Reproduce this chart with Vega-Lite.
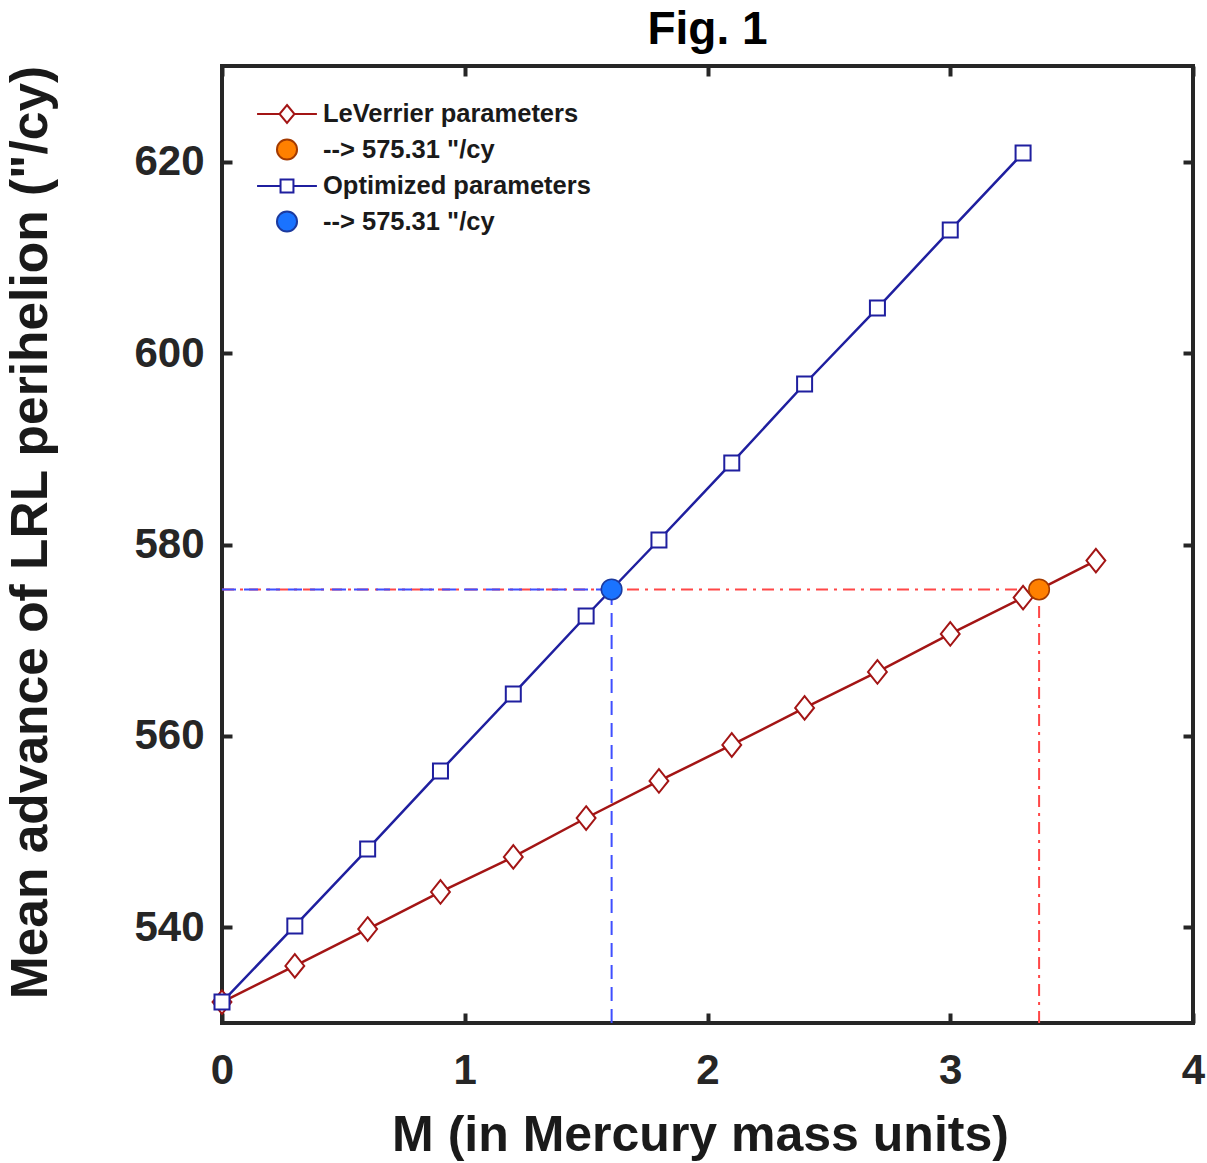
{
  "$schema": "https://vega.github.io/schema/vega-lite/v6.json",
  "width": 971,
  "height": 957,
  "autosize": {"type": "none"},
  "padding": {"left": 222, "top": 66, "right": 14, "bottom": 140},
  "background": "white",
  "title": {"text": "Fig. 1", "fontSize": 46, "font": "Liberation Sans", "fontWeight": "bold", "color": "#000000", "frame": "group", "anchor": "middle", "baseline": "alphabetic", "offset": 21, "dy": 47},
  "datasets": {
    "curves": [
      {"M": 0.0, "v": 532.19, "s": "L"},
      {"M": 0.3, "v": 535.96, "s": "L"},
      {"M": 0.6, "v": 539.82, "s": "L"},
      {"M": 0.9, "v": 543.69, "s": "L"},
      {"M": 1.2, "v": 547.35, "s": "L"},
      {"M": 1.5, "v": 551.42, "s": "L"},
      {"M": 1.8, "v": 555.29, "s": "L"},
      {"M": 2.1, "v": 559.05, "s": "L"},
      {"M": 2.4, "v": 562.92, "s": "L"},
      {"M": 2.7, "v": 566.68, "s": "L"},
      {"M": 3.0, "v": 570.65, "s": "L"},
      {"M": 3.3, "v": 574.45, "s": "L"},
      {"M": 3.6, "v": 578.32, "s": "L"},
      {"M": 0.0, "v": 532.19, "s": "O"},
      {"M": 0.3, "v": 540.14, "s": "O"},
      {"M": 0.6, "v": 548.18, "s": "O"},
      {"M": 0.9, "v": 556.33, "s": "O"},
      {"M": 1.2, "v": 564.38, "s": "O"},
      {"M": 1.5, "v": 572.53, "s": "O"},
      {"M": 1.8, "v": 580.47, "s": "O"},
      {"M": 2.1, "v": 588.52, "s": "O"},
      {"M": 2.4, "v": 596.77, "s": "O"},
      {"M": 2.7, "v": 604.71, "s": "O"},
      {"M": 3.0, "v": 612.86, "s": "O"},
      {"M": 3.3, "v": 620.91, "s": "O"}
    ],
    "dots": [
      {"M": 3.366, "v": 575.31, "s": "L"},
      {"M": 1.605, "v": 575.31, "s": "O"}
    ],
    "guides": [
      {"x1": 0, "x2": 3.366, "y1": 575.31, "y2": 575.31, "g": "red"},
      {"x1": 3.366, "x2": 3.366, "y1": 530, "y2": 575.31, "g": "red"},
      {"x1": 0, "x2": 1.605, "y1": 575.31, "y2": 575.31, "g": "blue"},
      {"x1": 1.605, "x2": 1.605, "y1": 530, "y2": 575.31, "g": "blue"}
    ],
    "keys": [{"k": "A"}, {"k": "B"}, {"k": "C"}, {"k": "D"}]
  },
  "resolve": {"axis": {"x": "independent", "y": "independent"}},
  "layer": [
    {
      "data": {"name": "guides"},
      "transform": [{"filter": "datum.g == 'red'"}],
      "mark": {"type": "rule", "stroke": "#ff4747", "strokeWidth": 2, "strokeDash": [12, 6, 3, 6]},
      "encoding": {
        "x": {"field": "x1", "type": "quantitative", "scale": {"domain": [0, 4], "nice": false, "zero": false},
              "axis": {"orient": "bottom", "values": [0, 1, 2, 3, 4], "title": "M (in Mercury mass units)", "grid": false, "domain": false,
                       "tickSize": -10, "tickWidth": 4, "tickColor": "#262626", "labelPadding": 70, "labelBaseline": "alphabetic",
                       "labelFontSize": 42, "labelFont": "Liberation Sans", "labelFontWeight": "bold", "labelColor": "#262626",
                       "titleFontSize": 50, "titleFont": "Liberation Sans", "titleFontWeight": "bold", "titleColor": "#1a1a1a",
                       "titleX": 478, "titleY": 127, "titleBaseline": "alphabetic", "titleAlign": "center", "labelFlush": false}},
        "x2": {"field": "x2"},
        "y": {"field": "y1", "type": "quantitative", "scale": {"domain": [530, 630], "nice": false, "zero": false},
              "axis": {"orient": "left", "values": [540, 560, 580, 600, 620], "title": "Mean advance of LRL perihelion (\"/cy)", "grid": false, "domain": false,
                       "tickSize": -10, "tickWidth": 4, "tickColor": "#262626", "labelPadding": 28, "labelBaseline": "middle",
                       "labelFontSize": 42, "labelFont": "Liberation Sans", "labelFontWeight": "bold", "labelColor": "#262626",
                       "titleFontSize": 51.5, "titleFont": "Liberation Sans", "titleFontWeight": "bold", "titleColor": "#1a1a1a",
                       "titleAngle": -90, "titleX": -176, "titleY": 466, "titleBaseline": "alphabetic", "titleAlign": "center", "labelFlush": false}},
        "y2": {"field": "y2"}
      }
    },
    {
      "data": {"name": "guides"},
      "transform": [{"filter": "datum.g == 'blue'"}],
      "mark": {"type": "rule", "stroke": "#3f4fff", "strokeWidth": 2, "strokeDash": [14, 8]},
      "encoding": {
        "x": {"field": "x1", "type": "quantitative",
              "axis": {"orient": "top", "values": [0, 1, 2, 3, 4], "title": null, "labels": false, "grid": false, "domain": false,
                       "tickSize": -10, "tickWidth": 4, "tickColor": "#262626"}},
        "x2": {"field": "x2"},
        "y": {"field": "y1", "type": "quantitative",
              "axis": {"orient": "right", "values": [540, 560, 580, 600, 620], "title": null, "labels": false, "grid": false, "domain": false,
                       "tickSize": -10, "tickWidth": 4, "tickColor": "#262626"}},
        "y2": {"field": "y2"}
      }
    },
    {
      "data": {"name": "curves"},
      "transform": [{"filter": "datum.s == 'L'"}],
      "mark": {"type": "line", "stroke": "#a31515", "strokeWidth": 2.5},
      "encoding": {
        "x": {"field": "M", "type": "quantitative", "axis": null},
        "y": {"field": "v", "type": "quantitative", "axis": null}
      }
    },
    {
      "data": {"name": "curves"},
      "transform": [{"filter": "datum.s == 'L'"}],
      "mark": {"type": "point", "shape": "M0,-1.15L0.92,0L0,1.15L-0.92,0Z", "size": 420, "filled": true, "fill": "white", "stroke": "#a31515", "strokeWidth": 2, "opacity": 1},
      "encoding": {
        "x": {"field": "M", "type": "quantitative", "axis": null},
        "y": {"field": "v", "type": "quantitative", "axis": null}
      }
    },
    {
      "data": {"name": "curves"},
      "transform": [{"filter": "datum.s == 'O'"}],
      "mark": {"type": "line", "stroke": "#1f1f9f", "strokeWidth": 2.5},
      "encoding": {
        "x": {"field": "M", "type": "quantitative", "axis": null},
        "y": {"field": "v", "type": "quantitative", "axis": null}
      }
    },
    {
      "data": {"name": "curves"},
      "transform": [{"filter": "datum.s == 'O'"}],
      "mark": {"type": "point", "shape": "square", "size": 225, "filled": true, "fill": "white", "stroke": "#1f1f9f", "strokeWidth": 2, "opacity": 1},
      "encoding": {
        "x": {"field": "M", "type": "quantitative", "axis": null},
        "y": {"field": "v", "type": "quantitative", "axis": null}
      }
    },
    {
      "data": {"name": "dots"},
      "transform": [{"filter": "datum.s == 'L'"}],
      "mark": {"type": "point", "shape": "circle", "size": 420, "filled": true, "fill": "#ff8000", "stroke": "#a33a00", "strokeWidth": 1.5, "opacity": 1},
      "encoding": {
        "x": {"field": "M", "type": "quantitative", "axis": null},
        "y": {"field": "v", "type": "quantitative", "axis": null}
      }
    },
    {
      "data": {"name": "dots"},
      "transform": [{"filter": "datum.s == 'O'"}],
      "mark": {"type": "point", "shape": "circle", "size": 420, "filled": true, "fill": "#1a73ff", "stroke": "#1c3a9e", "strokeWidth": 1.5, "opacity": 1},
      "encoding": {
        "x": {"field": "M", "type": "quantitative", "axis": null},
        "y": {"field": "v", "type": "quantitative", "axis": null}
      }
    },
    {
      "data": {"name": "keys"},
      "transform": [{"filter": "datum.k == 'none'"}],
      "mark": {"type": "point", "filled": true, "opacity": 1, "strokeWidth": 2, "size": 1156},
      "encoding": {
        "shape": {"field": "k", "type": "nominal",
                  "scale": {"domain": ["A", "B", "C", "D"], "range": [
                    "M-1.76,0L-0.44,0M0.44,0L1.76,0M0,-0.53L0.44,0L0,0.53L-0.44,0Z",
                    "M0.59,0A0.59,0.59,0,1,1,-0.59,0A0.59,0.59,0,1,1,0.59,0Z",
                    "M-1.76,0L-0.38,0M0.38,0L1.76,0M-0.38,-0.38L0.38,-0.38L0.38,0.38L-0.38,0.38Z",
                    "M0.59,0A0.59,0.59,0,1,1,-0.59,0A0.59,0.59,0,1,1,0.59,0Z"]},
                  "legend": {"title": null, "orient": "none", "legendX": 47, "legendY": 30, "padding": 0, "rowPadding": 3.5,
                             "symbolSize": 1156, "symbolStrokeWidth": 2, "labelOffset": 18, "labelLimit": 500,
                             "labelFont": "Liberation Sans", "labelFontWeight": "bold", "labelFontSize": 25.5, "labelColor": "#1a1a1a",
                             "labelExpr": "datum.value == 'A' ? 'LeVerrier parameters' : datum.value == 'C' ? 'Optimized parameters' : '--> 575.31 \"/cy'"}},
        "fill": {"field": "k", "type": "nominal",
                 "scale": {"domain": ["A", "B", "C", "D"], "range": ["#ffffff", "#ff8000", "#ffffff", "#1a73ff"]},
                 "legend": {"title": null, "orient": "none", "legendX": 47, "legendY": 30, "padding": 0, "rowPadding": 3.5,
                            "symbolSize": 1156, "symbolStrokeWidth": 2, "labelOffset": 18, "labelLimit": 500,
                            "labelFont": "Liberation Sans", "labelFontWeight": "bold", "labelFontSize": 25.5, "labelColor": "#1a1a1a",
                            "labelExpr": "datum.value == 'A' ? 'LeVerrier parameters' : datum.value == 'C' ? 'Optimized parameters' : '--> 575.31 \"/cy'"}},
        "stroke": {"field": "k", "type": "nominal",
                   "scale": {"domain": ["A", "B", "C", "D"], "range": ["#a31515", "#a33a00", "#1f1f9f", "#1c3a9e"]},
                   "legend": {"title": null, "orient": "none", "legendX": 47, "legendY": 30, "padding": 0, "rowPadding": 3.5,
                              "symbolSize": 1156, "symbolStrokeWidth": 2, "labelOffset": 18, "labelLimit": 500,
                              "labelFont": "Liberation Sans", "labelFontWeight": "bold", "labelFontSize": 25.5, "labelColor": "#1a1a1a",
                              "labelExpr": "datum.value == 'A' ? 'LeVerrier parameters' : datum.value == 'C' ? 'Optimized parameters' : '--> 575.31 \"/cy'"}}
      }
    }
  ],
  "config": {
    "view": {"stroke": "#262626", "strokeWidth": 4},
    "legend": {"symbolOpacity": 1}
  }
}
